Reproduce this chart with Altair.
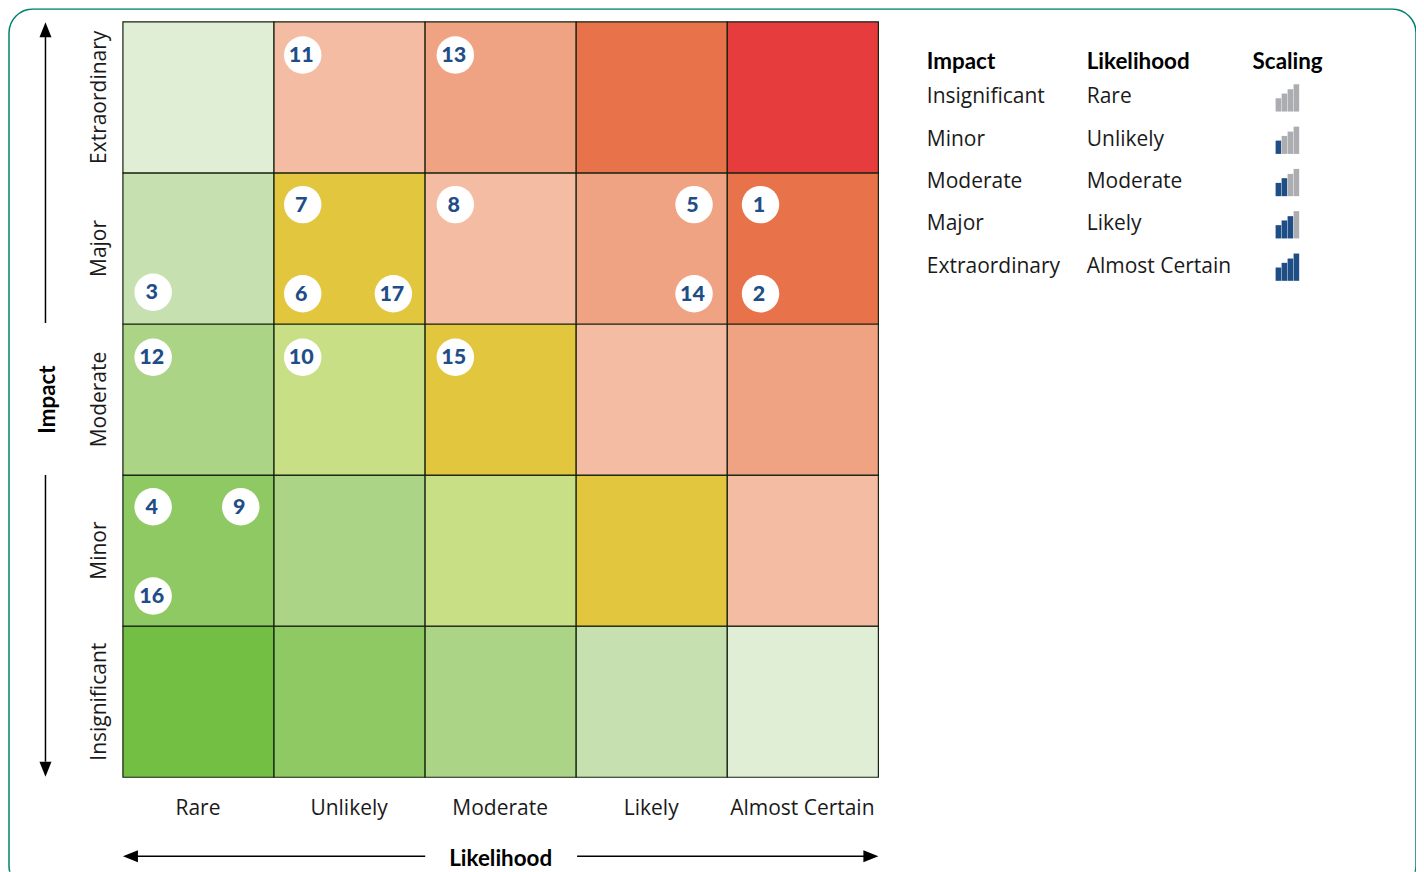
import altair as alt
import pandas as pd

likelihood = ["Rare", "Unlikely", "Moderate", "Likely", "Almost Certain"]
impact = ["Insignificant", "Minor", "Moderate", "Major", "Extraordinary"]

cell_colours = [  # bottom row (Insignificant) to top row (Extraordinary)
    ["#73BF44", "#8FC963", "#ABD486", "#C6E1AF", "#E1EED6"],
    ["#8FC963", "#ABD486", "#C9DF85", "#E2C63E", "#F4BDA3"],
    ["#ABD486", "#C9DF85", "#E2C63E", "#F4BDA3", "#F0A382"],
    ["#C6E1AF", "#E2C63E", "#F4BDA3", "#F0A382", "#E8734A"],
    ["#E1EED6", "#F4BDA3", "#F0A382", "#E8734A", "#E73C3E"],
]

risk_ids = list(range(1, 18))
risk_likelihood = [4.22, 4.22, 0.20, 0.20, 3.78, 1.19, 1.19, 2.20, 0.78, 1.19, 1.19, 0.20, 2.20, 3.78, 2.20, 0.20, 1.79]
risk_impact = [3.79, 3.20, 3.21, 1.79, 3.79, 3.20, 3.79, 3.79, 1.79, 2.78, 4.78, 2.78, 4.78, 3.20, 2.78, 1.20, 3.20]

scaling_levels = [0, 1, 2, 3, 4]
scaling_heights = [13.3, 18, 22.3, 27.3]

W, H = 1409, 864
ORIGIN_X, BOTTOM_Y, CELL = 122.5, 777.5, 151.2


def gx(px):
    return (px - ORIGIN_X) / CELL


def gy(py):
    return (BOTTOM_Y - py) / CELL


X = alt.Scale(domain=[gx(7.5), gx(7.5 + W)], nice=False, zero=False)
Y = alt.Scale(domain=[gy(8 + H), gy(8)], nice=False, zero=False)


def xq(name="x"):
    return alt.X(f"{name}:Q", scale=X, axis=None)


def yq(name="y"):
    return alt.Y(f"{name}:Q", scale=Y, axis=None)


# frame
frame = alt.Chart(pd.DataFrame([{"x": gx(8.5), "x2": gx(1416.5), "y": gy(8.75), "y2": gy(890)}])).mark_rect(
    fill="white", stroke="#00806F", strokeWidth=1.5, cornerRadius=24, clip=True
).encode(x=xq(), x2="x2:Q", y=yq(), y2="y2:Q")

# cells
cells = pd.DataFrame(
    [
        {"x": c, "x2": c + 1, "y": r, "y2": r + 1, "colour": cell_colours[r][c]}
        for r in range(5)
        for c in range(5)
    ]
)
grid = alt.Chart(cells).mark_rect(stroke="#14200E", strokeWidth=1.2).encode(
    x=xq(), x2="x2:Q", y=yq(), y2="y2:Q", fill=alt.Fill("colour:N", scale=None)
)

# risks
risks = pd.DataFrame({"id": risk_ids, "x": risk_likelihood, "y": risk_impact})
dots = alt.Chart(risks).mark_point(filled=True, color="white", opacity=1, size=1406, strokeWidth=0).encode(
    x=xq(), y=yq()
)
dot_text = alt.Chart(risks).mark_text(
    font="Lato", fontWeight=900, fontSize=21.5, color="#1F4E87", baseline="middle", dx=-1.5, dy=1
).encode(x=xq(), y=yq(), text="id:N")

# axis labels
LABEL_SIZE = 21
x_labels = alt.Chart(pd.DataFrame({"t": likelihood, "x": [i + 0.5 for i in range(5)], "y": gy(815.5)})).mark_text(
    font="Open Sans", fontSize=LABEL_SIZE, color="#1a1a1a", baseline="alphabetic", dx=-0.5
).encode(x=xq(), y=yq(), text="t:N")
y_labels = alt.Chart(pd.DataFrame({"t": impact, "x": gx(105.5), "y": [i + 0.5 for i in range(5)]})).mark_text(
    font="Open Sans", fontSize=LABEL_SIZE, color="#1a1a1a", baseline="alphabetic", angle=270
).encode(x=xq(), y=yq(), text="t:N")

# axis titles
TITLE_SIZE = 22.4
x_title = alt.Chart(pd.DataFrame({"t": ["Likelihood"], "x": [2.5], "y": [gy(866)]})).mark_text(
    font="Lato", fontWeight="bold", fontSize=TITLE_SIZE, color="black", baseline="alphabetic"
).encode(x=xq(), y=yq(), text="t:N")
y_title = alt.Chart(pd.DataFrame({"t": ["Impact"], "x": [gx(55)], "y": [2.5]})).mark_text(
    font="Lato", fontWeight="bold", fontSize=TITLE_SIZE, color="black", baseline="alphabetic", angle=270
).encode(x=xq(), y=yq(), text="t:N")

# arrows
shafts = pd.DataFrame(
    [
        {"x": gx(45), "x2": gx(45), "y": gy(36), "y2": gy(323)},
        {"x": gx(45), "x2": gx(45), "y": gy(475), "y2": gy(762)},
        {"x": gx(136), "x2": gx(425), "y": gy(856.5), "y2": gy(856.5)},
        {"x": gx(577), "x2": gx(866), "y": gy(856.5), "y2": gy(856.5)},
    ]
)
shaft_marks = alt.Chart(shafts).mark_rule(color="black", strokeWidth=1.5).encode(
    x=xq(), x2="x2:Q", y=yq(), y2="y2:Q"
)


def head(px, py, path):
    return alt.Chart(pd.DataFrame({"x": [gx(px)], "y": [gy(py)]})).mark_point(
        filled=True, color="black", opacity=1, size=225, strokeWidth=0, shape=path
    ).encode(x=xq(), y=yq())


heads = [
    head(45, 29.5, "M0,-1L0.8,1L-0.8,1Z"),
    head(45, 769.5, "M0,1L0.8,-1L-0.8,-1Z"),
    head(130, 856.5, "M-1,0L1,-0.8L1,0.8Z"),
    head(871, 856.5, "M1,0L-1,-0.8L-1,0.8Z"),
]

# legend table
row_baselines = [102.5, 145.5, 187.5, 229.5, 272.5]
table_rows = []
for i in range(5):
    table_rows.append({"t": impact[i], "x": gx(927), "y": gy(row_baselines[i])})
    table_rows.append({"t": likelihood[i], "x": gx(1087), "y": gy(row_baselines[i])})
table = alt.Chart(pd.DataFrame(table_rows)).mark_text(
    font="Open Sans", fontSize=LABEL_SIZE, color="#1a1a1a", align="left", baseline="alphabetic"
).encode(x=xq(), y=yq(), text="t:N")

headers = alt.Chart(
    pd.DataFrame(
        {"t": ["Impact", "Likelihood", "Scaling"], "x": [gx(927), gx(1087), gx(1253)], "y": gy(69)}
    )
).mark_text(font="Lato", fontWeight="bold", fontSize=TITLE_SIZE, color="black", align="left", baseline="alphabetic").encode(
    x=xq(), y=yq(), text="t:N"
)

# scaling icons
bar_bottoms = [111.3, 153.7, 196, 238.3, 280.7]
bar_lefts = [1276, 1282, 1288, 1294]
bar_rows = []
for row, level in enumerate(scaling_levels):
    for b, h in enumerate(scaling_heights):
        bar_rows.append(
            {
                "x": gx(bar_lefts[b]),
                "x2": gx(bar_lefts[b] + 5.6),
                "y": gy(bar_bottoms[row]),
                "y2": gy(bar_bottoms[row] - h),
                "colour": "#1F4E87" if b < level else "#ABADB0",
            }
        )
bars = alt.Chart(pd.DataFrame(bar_rows)).mark_rect(strokeWidth=0).encode(
    x=xq(), x2="x2:Q", y=yq(), y2="y2:Q", fill=alt.Fill("colour:N", scale=None)
)

chart = (
    alt.layer(frame, grid, dots, dot_text, x_labels, y_labels, x_title, y_title, shaft_marks, *heads, table, headers, bars)
    .properties(width=W, height=H, padding=0, autosize=alt.AutoSizeParams(type="none"))
    .configure_view(strokeWidth=0)
)
chart.save("out.html", embed_options={"renderer": "svg", "actions": False})
